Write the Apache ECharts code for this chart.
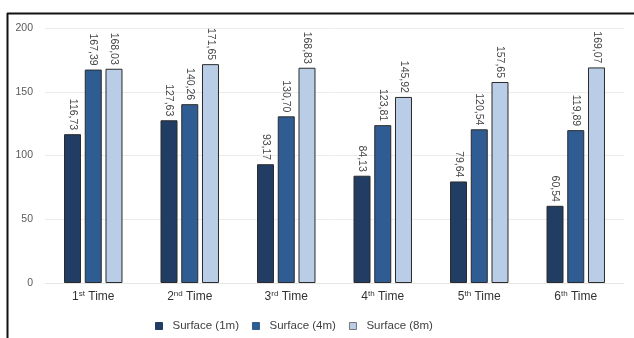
<!DOCTYPE html>
<html><head><meta charset="utf-8">
<script src="https://cdn.jsdelivr.net/npm/echarts@6/dist/echarts.min.js"></script>
<style>html,body{margin:0;padding:0;background:#fff}#c{width:634px;height:338px}</style>
</head><body><div id="c"></div>
<script>
const categories = ['1st Time','2nd Time','3rd Time','4th Time','5th Time','6th Time'];
const ordNum = ['1','2','3','4','5','6'];
const ordSup = ['st','nd','rd','th','th','th'];
const seriesNames = ['Surface (1m)','Surface (4m)','Surface (8m)'];
const surface1m = [116.73,127.63,93.17,84.13,79.64,60.54];
const surface4m = [167.39,140.26,130.70,123.81,120.54,119.89];
const surface8m = [168.03,171.65,168.83,145.92,157.65,169.07];
const yTicks = [0,50,100,150,200];

const colors = ['#213d63','#2f5d93','#b9cde6'];
const font = 'Liberation Sans, Arial, sans-serif';
const chart = echarts.init(document.getElementById('c'), null, {renderer:'canvas'});
function mk(name, data, i){
  return {
    name, type:'bar', data, barWidth:17, barGap:'22%',
    itemStyle:{color:colors[i], borderColor:'#2b2b2b', borderWidth:1},
    label:{show:true, position:'top', rotate:-90, align:'right', verticalAlign:'middle', distance:4,
      color:'#454545', fontSize:10.5, fontFamily:font,
      formatter:p=>p.value.toFixed(2).replace('.',',')}
  };
}
chart.setOption({
  animation:false,
  grid:{left:45,right:10,top:28,bottom:55,containLabel:false},
  legend:{bottom:1,left:150,itemWidth:7,itemHeight:7,itemGap:13,icon:'rect',
    textStyle:{color:'#404040',fontSize:11.5,fontFamily:font,padding:[0,0,0,5]},
    data:seriesNames.map((n,i)=>({name:n,itemStyle:{borderColor:i===2?'#777':colors[i],borderWidth:1}}))},
  xAxis:{type:'category',data:categories,
    axisLine:{show:true,lineStyle:{color:'#e6e6e6'}},axisTick:{show:false},
    axisLabel:{margin:7,interval:0,
      formatter:(v,idx)=>'{n|'+ordNum[idx]+'}{s|'+ordSup[idx]+'}{n| Time}',
      rich:{n:{fontSize:12,color:'#333',fontFamily:font,verticalAlign:'bottom'},
            s:{fontSize:8,color:'#333',fontFamily:font,verticalAlign:'top',padding:[0,0,5,0]}}}},
  yAxis:{type:'value',min:0,max:200,interval:50,
    axisLine:{show:false},axisTick:{show:false},
    axisLabel:{color:'#595959',fontSize:10.5,fontFamily:font,margin:12,
      formatter:v=>yTicks.includes(v)?String(v):''},
    splitLine:{lineStyle:{color:'#ececec'}}},
  series:[mk(seriesNames[0],surface1m,0),mk(seriesNames[1],surface4m,1),mk(seriesNames[2],surface8m,2)],
  graphic:[
    {type:'line',shape:{x1:7,y1:13.5,x2:634,y2:13.5},style:{stroke:'#111',lineWidth:2}},
    {type:'line',shape:{x1:7.5,y1:13,x2:7.5,y2:338},style:{stroke:'#111',lineWidth:2}}
  ]
});
</script></body></html>
